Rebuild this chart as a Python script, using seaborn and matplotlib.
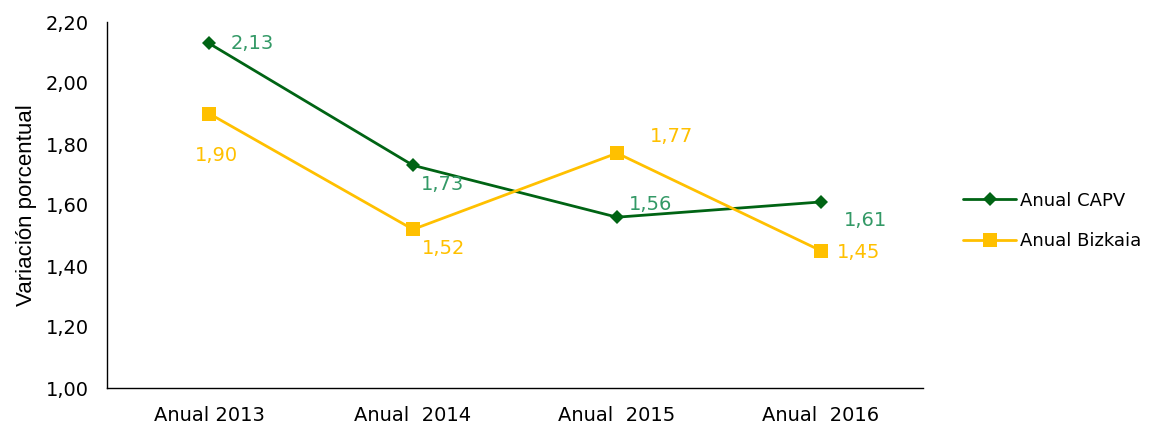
import matplotlib
matplotlib.use("Agg")
import matplotlib.pyplot as plt
import seaborn as sns
import pandas as pd

periods = ["Anual 2013", "Anual  2014", "Anual  2015", "Anual  2016"]
capv = [2.13, 1.73, 1.56, 1.61]
bizkaia = [1.90, 1.52, 1.77, 1.45]
series_names = ["Anual CAPV", "Anual Bizkaia"]

sns.set_theme(style="white")
plt.rcParams["font.family"] = ["DejaVu Sans"]
plt.rcParams["text.color"] = "black"

df = pd.DataFrame({
    "periodo": periods * 2,
    "valor": capv + bizkaia,
    "serie": [series_names[0]] * 4 + [series_names[1]] * 4,
})

line_colors = {"Anual CAPV": "#006414", "Anual Bizkaia": "#FFC000"}
label_colors = {"Anual CAPV": "#339966", "Anual Bizkaia": "#FFC000"}

fig = plt.figure(figsize=(11.5, 4.28), dpi=100)
ax = fig.add_axes([107 / 1150, 40 / 428, (923 - 107) / 1150, (388 - 22) / 428])

sns.lineplot(data=df, x="periodo", y="valor", hue="serie", style="serie",
             markers={"Anual CAPV": "D", "Anual Bizkaia": "s"}, dashes=False,
             palette=line_colors, linewidth=2, markeredgewidth=0,
             sort=False, ax=ax)

# marker sizes differ per series
for line in ax.lines:
    if line.get_marker() == "D":
        line.set_markersize(7.5)
    elif line.get_marker() == "s":
        line.set_markersize(10)

ax.set_xlim(-0.5, 3.5)
ax.set_ylim(1.0, 2.2)
ax.set_yticks([1.0, 1.2, 1.4, 1.6, 1.8, 2.0, 2.2])
ax.set_yticklabels([f"{v:.2f}".replace(".", ",") for v in ax.get_yticks()])
ax.tick_params(axis="both", labelsize=14, length=0, colors="black")
ax.tick_params(axis="y", pad=13)
ax.tick_params(axis="x", pad=13)
ax.set_xlabel("")
ax.set_ylabel("Variación porcentual", fontsize=16, family="Liberation Sans",
              labelpad=6, color="black")

for side in ["top", "right"]:
    ax.spines[side].set_visible(False)
for side in ["left", "bottom"]:
    ax.spines[side].set_color("black")
    ax.spines[side].set_linewidth(1)

# value labels
offsets = {
    "Anual CAPV": [(31, 0), (21, -14), (24, 9), (32, -13)],
    "Anual Bizkaia": [(5, -30), (22, -14), (39, 12), (27, -1)],
}
for name, vals in zip(series_names, [capv, bizkaia]):
    for i, v in enumerate(vals):
        ax.annotate(f"{v:.2f}".replace(".", ","), xy=(i, v),
                    xytext=offsets[name][i], textcoords="offset points",
                    ha="center", va="center", fontsize=14,
                    color=label_colors[name])

leg = ax.legend(loc="center left", bbox_to_anchor=(949 / 1150, (428 - 221) / 428),
                bbox_transform=fig.transFigure, frameon=False, fontsize=13,
                handlelength=2.9, handletextpad=0.25, labelspacing=1.25,
                borderpad=0.3, title=None)
for t in leg.get_texts():
    t.set_color("black")
for h in leg.legend_handles:
    h.set_markeredgewidth(0)

fig.savefig("out.png", dpi=100, facecolor="white")
